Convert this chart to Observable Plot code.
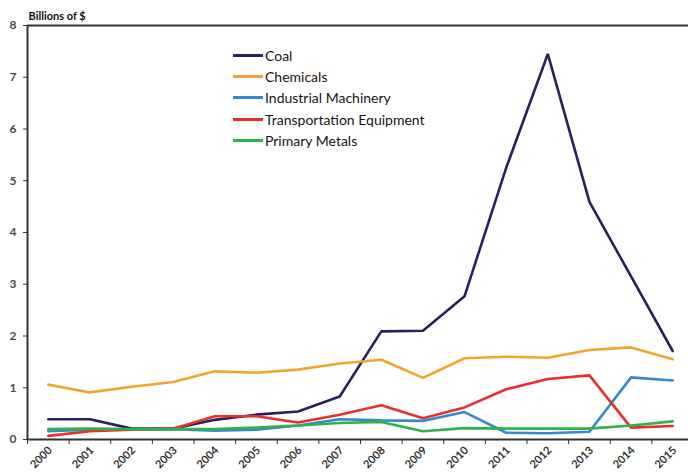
<!DOCTYPE html>
<html>
<head>
<meta charset="utf-8">
<script src="https://cdn.jsdelivr.net/npm/d3@7"></script>
<script src="https://cdn.jsdelivr.net/npm/@observablehq/plot@0.6"></script>
<style>
  html, body { margin: 0; padding: 0; background: #fff; }
  #wrap { position: relative; width: 688px; height: 474px; font-family: Lato, "Open Sans", sans-serif; }
  #legend { position: absolute; left: 233px; top: 45px; }
  .row { display: flex; align-items: center; height: 21.2px; font-size: 14px; color: #141414; }
  .sw { width: 30px; height: 3px; margin-right: 2px; }
</style>
</head>
<body>
<div id="wrap"><div id="legend"></div></div>
<script>
// Annual values by commodity group, billions of dollars
const years = [2000, 2001, 2002, 2003, 2004, 2005, 2006, 2007, 2008, 2009, 2010, 2011, 2012, 2013, 2014, 2015];
const coal           = [0.39, 0.39, 0.21, 0.21, 0.38, 0.48, 0.54, 0.83, 2.09, 2.10, 2.77, 5.25, 7.45, 4.59, 3.15, 1.71];
const chemicals      = [1.06, 0.91, 1.02, 1.11, 1.32, 1.29, 1.35, 1.47, 1.54, 1.19, 1.57, 1.60, 1.58, 1.73, 1.78, 1.55];
const machinery      = [0.16, 0.19, 0.19, 0.20, 0.17, 0.19, 0.27, 0.39, 0.37, 0.36, 0.53, 0.13, 0.12, 0.15, 1.20, 1.14];
const transportation = [0.07, 0.16, 0.19, 0.21, 0.45, 0.45, 0.33, 0.48, 0.66, 0.41, 0.62, 0.97, 1.17, 1.24, 0.23, 0.26];
const metals         = [0.20, 0.21, 0.20, 0.20, 0.20, 0.23, 0.27, 0.32, 0.34, 0.16, 0.22, 0.21, 0.21, 0.21, 0.27, 0.35];

const seriesNames  = ["Coal", "Chemicals", "Industrial Machinery", "Transportation Equipment", "Primary Metals"];
const seriesValues = [coal, chemicals, machinery, transportation, metals];
const seriesColors = ["#2d1f5c", "#f0a52c", "#3788d2", "#e8302a", "#2fb24a"];
const yTicks = [0, 1, 2, 3, 4, 5, 6, 7, 8];

const table = seriesNames.flatMap((name, i) =>
  years.map((year, j) => ({series: name, year, value: seriesValues[i][j]}))
);
// category boundaries, where the x tick marks sit
const bounds = years.map(y => y - 0.5).concat([years[years.length - 1] + 0.5]);

const axisColor = "#333";

const chart = Plot.plot({
  width: 688,
  height: 474,
  marginLeft: 27,
  marginTop: 25,
  marginBottom: 35,
  marginRight: 0,
  style: {fontFamily: "Lato, 'Open Sans', sans-serif", background: "#fff"},
  x: {type: "linear", domain: [bounds[0], bounds[bounds.length - 1]], range: [27, 693]},
  y: {domain: [0, 8]},
  color: {domain: seriesNames, range: seriesColors},
  marks: [
    Plot.ruleY([8], {stroke: axisColor, strokeWidth: 2}),
    Plot.lineY(table, {x: "year", y: "value", z: "series", stroke: "series", strokeWidth: 2.6, strokeLinejoin: "miter"}),
    Plot.axisY({ticks: yTicks, tickSize: 4, tickPadding: 7, fontSize: 12, fontWeight: "bold", color: "#4a4a4a", label: null, stroke: axisColor}),
    Plot.axisX({ticks: bounds, tickSize: 5, tickFormat: () => "", label: null, stroke: axisColor}),
    Plot.axisX({ticks: years, tickSize: 0, tickPadding: 9, tickRotate: -45, tickFormat: d => String(d), fontSize: 11, fontWeight: "bold", color: "#333", label: null, dx: 2}),
    Plot.ruleX([bounds[0]], {stroke: axisColor, strokeWidth: 2}),
    Plot.ruleY([0], {stroke: axisColor, strokeWidth: 2}),
    Plot.text(["Billions of $"], {frameAnchor: "top-left", dx: 1, dy: -6, lineAnchor: "bottom", textAnchor: "start", fontSize: 11, fontWeight: "bold", fill: "#111"})
  ]
});

const wrap = document.getElementById("wrap");
wrap.insertBefore(chart, wrap.firstChild);

const legend = document.getElementById("legend");
seriesNames.forEach((name, i) => {
  const row = document.createElement("div");
  row.className = "row";
  const sw = document.createElement("span");
  sw.className = "sw";
  sw.style.background = seriesColors[i];
  const label = document.createElement("span");
  label.textContent = name;
  row.appendChild(sw);
  row.appendChild(label);
  legend.appendChild(row);
});
</script>
</body>
</html>
